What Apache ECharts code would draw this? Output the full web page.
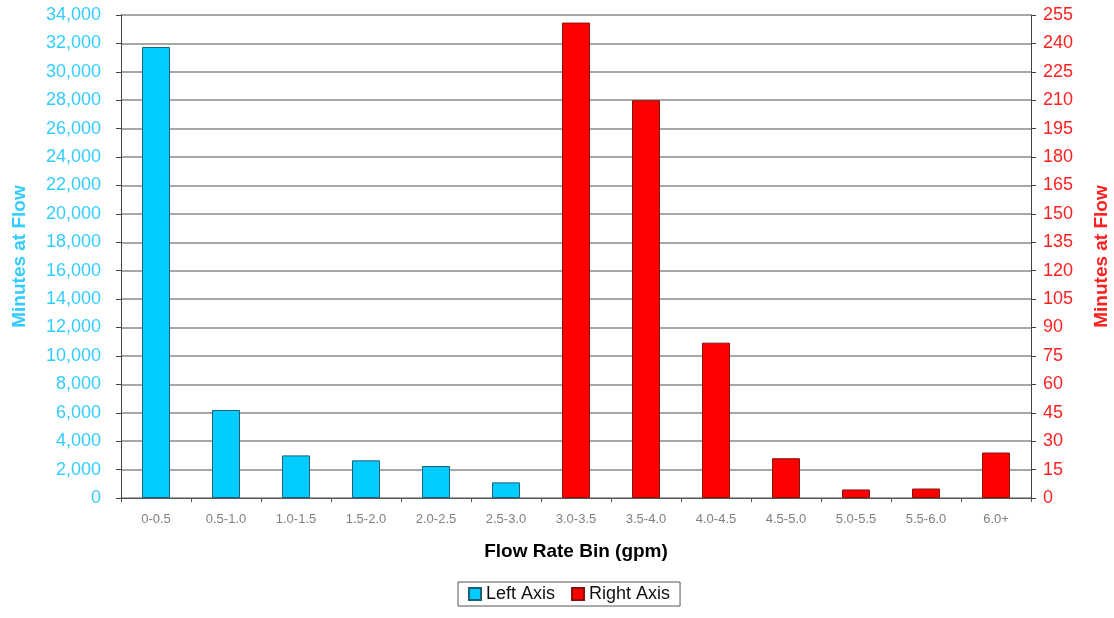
<!DOCTYPE html>
<html>
<head>
<meta charset="utf-8">
<script src="https://cdn.jsdelivr.net/npm/echarts@6/dist/echarts.min.js"></script>
<style>
html,body{margin:0;padding:0;background:#fff;}
#chart{width:1114px;height:618px;}
</style>
</head>
<body>
<div id="chart"></div>
<script>
var categories = ['0-0.5','0.5-1.0','1.0-1.5','1.5-2.0','2.0-2.5','2.5-3.0','3.0-3.5','3.5-4.0','4.0-4.5','4.5-5.0','5.0-5.5','5.5-6.0','6.0+'];
var leftAxisValues = [31750, 6200, 3000, 2650, 2250, 1100, null, null, null, null, null, null, null];
var rightAxisValues = [null, null, null, null, null, null, 251, 210, 82, 21, 4.5, 5, 24];
var seriesNames = ['Left Axis', 'Right Axis'];
var axisTitles = { x: 'Flow Rate Bin (gpm)', left: 'Minutes at Flow', right: 'Minutes at Flow' };

var chart = echarts.init(document.getElementById('chart'));
var fontFam = 'Arial, "Liberation Sans", sans-serif';
chart.setOption({
  animation: false,
  textStyle: { fontFamily: fontFam },
  grid: { left: 121, right: 83, top: 15, bottom: 120, containLabel: false, outerBoundsMode: 'none' },
  legend: {
    data: seriesNames,
    left: 458,
    top: 582,
    icon: 'rect',
    itemWidth: 12,
    itemHeight: 12,
    itemGap: 16,
    borderColor: '#555',
    borderWidth: 1,
    padding: [3, 10, 3, 10],
    borderRadius: 0,
    textStyle: { fontSize: 18, color: '#111', fontFamily: fontFam }
  },
  xAxis: {
    type: 'category',
    data: categories,
    name: axisTitles.x,
    nameLocation: 'middle',
    nameGap: 44,
    nameTextStyle: { fontSize: 19, fontWeight: 'bold', color: '#000', fontFamily: fontFam },
    axisLine: { lineStyle: { color: '#555' } },
    axisTick: { show: true, length: 4, lineStyle: { color: '#555' } },
    axisLabel: { fontSize: 13, color: '#808080', margin: 15 }
  },
  yAxis: [
    {
      type: 'value',
      min: 0, max: 34000, interval: 2000,
      name: axisTitles.left,
      nameLocation: 'middle',
      nameGap: 92,
      nameRotate: 90,
      nameTextStyle: { fontSize: 19, fontWeight: 'bold', color: '#33ccff', fontFamily: fontFam },
      axisLine: { show: true, lineStyle: { color: '#444' } },
      axisTick: { show: true, length: 5, lineStyle: { color: '#444' } },
      axisLabel: {
        fontSize: 18, color: '#33ccff', margin: 20,
        formatter: function (v) { return v.toLocaleString('en-US'); }
      },
      splitLine: { show: true, lineStyle: { color: '#8a8a8a', width: 1.5 } }
    },
    {
      type: 'value',
      min: 0, max: 255, interval: 15,
      position: 'right',
      name: axisTitles.right,
      nameLocation: 'middle',
      nameGap: 61,
      nameRotate: 90,
      nameTextStyle: { fontSize: 19, fontWeight: 'bold', color: '#ff2020', fontFamily: fontFam },
      axisLine: { show: true, lineStyle: { color: '#444' } },
      axisTick: { show: true, length: 5, lineStyle: { color: '#444' } },
      axisLabel: { fontSize: 18, color: '#ff2020', margin: 12 },
      splitLine: { show: false }
    }
  ],
  series: [
    {
      name: seriesNames[0],
      type: 'bar',
      yAxisIndex: 0,
      data: leftAxisValues,
      barWidth: 28,
      barGap: '-100%',
      itemStyle: { color: '#00ccff', borderColor: '#1f5f78', borderWidth: 1 }
    },
    {
      name: seriesNames[1],
      type: 'bar',
      yAxisIndex: 1,
      data: rightAxisValues,
      barWidth: 28,
      barGap: '-100%',
      itemStyle: { color: '#ff0000', borderColor: '#8a1010', borderWidth: 1 }
    }
  ]
});
</script>
</body>
</html>
